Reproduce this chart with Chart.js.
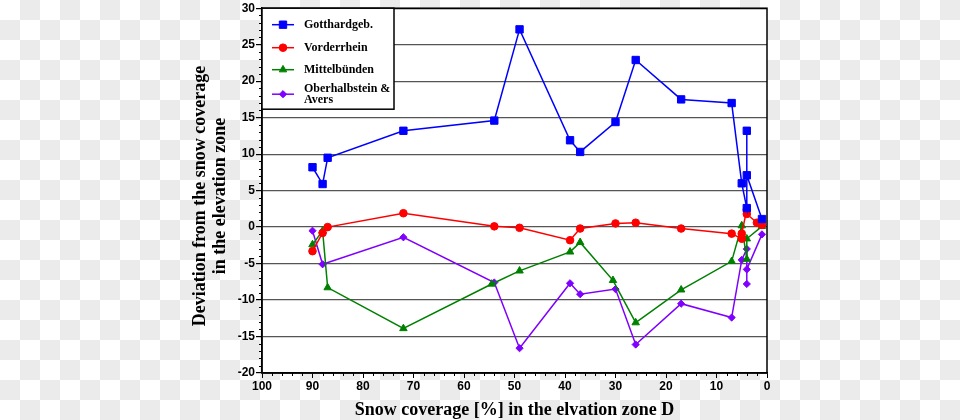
<!DOCTYPE html>
<html>
<head>
<meta charset="utf-8">
<script src="https://cdn.jsdelivr.net/npm/chart.js@4.4.1/dist/chart.umd.min.js"></script>
<style>
  html, body { margin: 0; padding: 0; }
  body {
    width: 960px; height: 420px;
    background: repeating-conic-gradient(#ebebeb 0 25%, #ffffff 0 50%) 0 0 / 40px 40px;
  }
  #chart { display: block; }
</style>
</head>
<body>
<canvas id="chart" width="960" height="420"></canvas>
<script>
// values
var seriesNames = ['Gotthardgeb.', 'Vorderrhein', 'Mittelbünden', 'Oberhalbstein &\nAvers'];

var gotthardX = [90, 88, 87, 72, 54, 49, 39, 37, 30, 26, 17, 7, 5, 4, 4, 4, 1];
var gotthardY = [8.2, 5.9, 9.5, 13.2, 14.6, 27.1, 11.9, 10.3, 14.4, 22.9, 17.5, 17.0, 6.0, 2.6, 13.2, 7.1, 1.1];

var vorderX = [90, 88, 87, 72, 54, 49, 39, 37, 30, 26, 17, 7, 5, 5, 4, 4, 2, 1];
var vorderY = [-3.3, -0.8, 0.0, 1.9, 0.1, -0.1, -1.8, -0.2, 0.5, 0.6, -0.2, -0.9, -1.6, -0.9, 2.4, 1.8, 0.6, 0.3];

var mittelX = [90, 88, 87, 72, 54.5, 49, 39, 37, 30.5, 26, 17, 7, 5, 4, 4, 1];
var mittelY = [-2.4, -0.5, -8.3, -13.9, -7.8, -6.0, -3.4, -2.1, -7.3, -13.1, -8.6, -4.7, 0.2, -4.4, -1.6, 0.1];

var oberX = [90, 88, 72, 54, 49, 39, 37, 30, 26, 17, 7, 5, 4, 4, 4, 1];
var oberY = [-0.5, -5.1, -1.4, -7.6, -16.6, -7.7, -9.2, -8.5, -16.1, -10.5, -12.4, -4.5, -3.0, -7.8, -5.8, -1.0];

var xTitle = 'Snow coverage [%] in the elvation zone D';
var yTitle = ['Deviation from the snow coverage', 'in the elevation zone'];

function pts(xs, ys) {
    return xs.map(function (x, i) { return { x: x, y: ys[i] }; });
}

function series(name, xs, ys, color, style, radius) {
    return {
        label: name,
        data: pts(xs, ys),
        borderColor: color,
        backgroundColor: color,
        borderWidth: 1.5,
        pointStyle: style,
        pointRadius: radius,
        pointBorderWidth: 1,
        pointBorderColor: color,
        pointBackgroundColor: color,
        tension: 0
    };
}

var serif = '"Liberation Serif", "Times New Roman", serif';
var sans = '"Liberation Sans", Arial, sans-serif';

// white plot area, frame, minor ticks, titles and the boxed legend
var decor = {
    id: 'decor',
    beforeDraw: function (chart) {
        var a = chart.chartArea, ctx = chart.ctx;
        ctx.save();
        ctx.fillStyle = '#fff';
        ctx.fillRect(a.left, a.top, a.right - a.left, a.bottom - a.top);
        ctx.restore();
    },
    afterDraw: function (chart) {
        var a = chart.chartArea, ctx = chart.ctx;
        var xs = chart.scales.x, ys = chart.scales.y;
        ctx.save();
        ctx.strokeStyle = '#000';
        ctx.lineWidth = 1;
        ctx.beginPath();
        for (var v = -20; v <= 30; v++) {
            if (v % 5 === 0) continue;
            var py = Math.round(ys.getPixelForValue(v)) + 0.5;
            ctx.moveTo(a.left - 3, py);
            ctx.lineTo(a.left, py);
        }
        for (var u = 0; u <= 100; u += 2) {
            if (u % 10 === 0) continue;
            var px = Math.round(xs.getPixelForValue(u)) + 0.5;
            ctx.moveTo(px, a.bottom);
            ctx.lineTo(px, a.bottom + 3);
        }
        ctx.stroke();

        // frame
        ctx.lineWidth = 1.5;
        ctx.strokeRect(a.left, a.top, a.right - a.left, a.bottom - a.top);

        // axis titles
        ctx.fillStyle = '#000';
        ctx.font = 'bold 18px ' + serif;
        ctx.textAlign = 'center';
        ctx.textBaseline = 'middle';
        ctx.fillText(xTitle, (a.left + a.right) / 2, 410);
        ctx.save();
        ctx.translate(200, 196);
        ctx.rotate(-Math.PI / 2);
        ctx.fillText(yTitle[0], 0, 0);
        ctx.fillText(yTitle[1], 0, 20);
        ctx.restore();

        // legend
        var bx = a.left, by = a.top, bw = 132, bh = 101;
        ctx.fillStyle = '#fff';
        ctx.fillRect(bx, by, bw, bh);
        ctx.lineWidth = 1.5;
        ctx.strokeStyle = '#000';
        ctx.strokeRect(bx, by, bw, bh);
        var rows = [22.5, 45.5, 67.5, 92];
        ctx.font = 'bold 12px ' + serif;
        ctx.textAlign = 'left';
        chart.data.datasets.forEach(function (ds, i) {
            var y = by + rows[i] - 6;
            ctx.strokeStyle = ds.borderColor;
            ctx.fillStyle = ds.backgroundColor;
            ctx.lineWidth = 1.5;
            ctx.beginPath();
            ctx.moveTo(bx + 10, y);
            ctx.lineTo(bx + 32, y);
            ctx.stroke();
            ctx.lineWidth = 1;
            Chart.helpers.drawPoint(ctx, { pointStyle: ds.pointStyle, radius: ds.pointRadius, rotation: 0, borderWidth: 1 }, bx + 21, y);
            ctx.fillStyle = '#000';
            var lines = ds.label.split('\n');
            var off = lines.length > 1 ? -5.5 : 0;
            lines.forEach(function (t, k) {
                ctx.fillText(t, bx + 42, y + off + k * 11.5);
            });
        });
        ctx.restore();
    }
};

var ctx = document.getElementById('chart');
var myChart = new Chart(ctx, {
    type: 'line',
    data: {
        datasets: [
            series(seriesNames[0], gotthardX, gotthardY, '#0000ff', 'rect', 5.2),
            series(seriesNames[1], vorderX, vorderY, '#ff0000', 'circle', 3.8),
            series(seriesNames[2], mittelX, mittelY, '#008000', 'triangle', 4.3),
            series(seriesNames[3], oberX, oberY, '#7f00ff', 'rectRot', 3.6)
        ]
    },
    options: {
        responsive: false,
        animation: false,
        devicePixelRatio: 1,
        layout: { padding: { top: 6, right: 193, left: 0, bottom: 0 } },
        plugins: {
            legend: { display: false },
            tooltip: { enabled: false }
        },
        scales: {
            x: {
                type: 'linear',
                reverse: true,
                min: 0,
                max: 100,
                afterFit: function (s) { s.height = 47; },
                ticks: {
                    stepSize: 10,
                    color: '#000',
                    padding: 1,
                    maxRotation: 0,
                    font: { family: sans, size: 12, weight: 'bold' }
                },
                grid: { drawOnChartArea: false, drawTicks: true, tickLength: 5, tickColor: '#000', lineWidth: 1 },
                border: { display: true, color: '#000', width: 1.5 }
            },
            y: {
                min: -20,
                max: 30,
                afterFit: function (s) { s.width = 262; },
                ticks: {
                    stepSize: 5,
                    color: '#000',
                    padding: 1,
                    font: { family: sans, size: 12, weight: 'bold' }
                },
                grid: {
                    color: function (c) { return c.tick && (c.tick.value === 30 || c.tick.value === -20) ? '#000' : '#555'; },
                    lineWidth: 1.2,
                    drawTicks: true,
                    tickLength: 6,
                    tickColor: '#000'
                },
                border: { display: true, color: '#000', width: 1.5 }
            }
        }
    },
    plugins: [decor]
});
</script>
</body>
</html>
